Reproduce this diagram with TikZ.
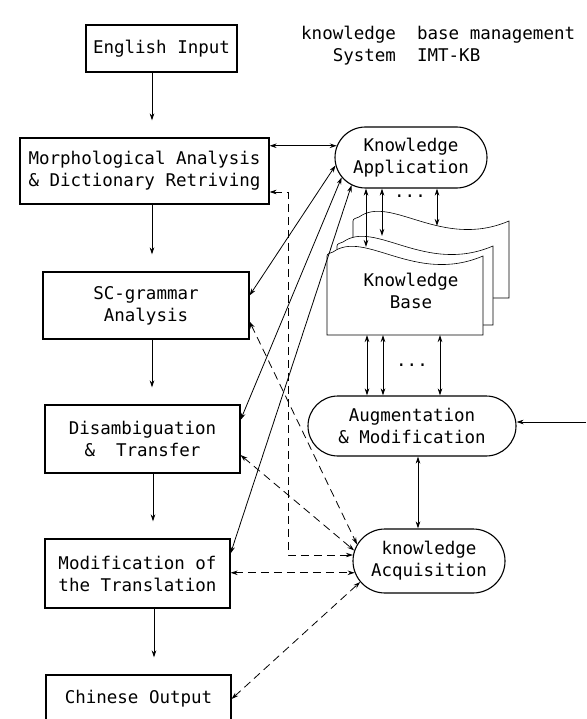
\documentclass[tikz,border=0pt]{standalone}
\usepackage{fontspec}
\setmonofont{DejaVu Sans Mono}
\usetikzlibrary{shapes.misc,arrows.meta,calc}
\begin{document}
\begin{tikzpicture}[x=1pt,y=-1pt,
  >={Stealth[length=7pt,width=4.5pt]},
  every node/.style={font=\ttfamily\fontsize{17.5}{22}\selectfont},
  box/.style={draw,line width=1.1pt,align=center,inner sep=2pt},
  stad/.style={draw,line width=1.1pt,rounded rectangle,align=center,inner sep=2pt},
  ln/.style={line width=0.8pt},
  dsh/.style={line width=0.8pt,dash pattern=on 8pt off 5pt},
  flow/.style={->,line width=0.9pt,shorten >=17pt},
  kbdoc/.pic={\filldraw[fill=white,line width=0.6pt] (0,#1) -- (0,3) to[out=90,in=210] (6,-1) .. controls (38,-24) and (88,32) .. (156,3) -- (156,#1) -- cycle;}
]
\useasboundingbox (0,0) rectangle (586,719);
\clip (0,0) rectangle (586,719);

% left column
\node[box,minimum width=151pt,minimum height=47pt] (EI) at (161.5,48.5) {English Input};
\node[box,minimum width=249pt,minimum height=66pt] (MA) at (144.5,171) {Morphological Analysis\\\& Dictionary Retriving};
\node[box,minimum width=206pt,minimum height=67pt] (SC) at (146,305.5) {SC-grammar\\Analysis};
\node[box,minimum width=195pt,minimum height=68pt] (DT) at (142.5,439) {Disambiguation\\\&\ \ Transfer};
\node[box,minimum width=185pt,minimum height=69pt] (MT) at (137.5,573.5) {Modification of\\the Translation};
\node[box,minimum width=185pt,minimum height=48pt] (CO) at (138.5,699) {Chinese Output};

\draw[flow] ([xshift=-9.5pt]EI.south) -- ([xshift=-9.5pt]EI.south |- MA.north);
\draw[flow] ([xshift=7.5pt]MA.south) -- ([xshift=7.5pt]MA.south |- SC.north);
\draw[flow] ([xshift=6pt]SC.south) -- ([xshift=6pt]SC.south |- DT.north);
\draw[flow] ([xshift=10.5pt]DT.south) -- ([xshift=10.5pt]DT.south |- MT.north);
\draw[flow] ([xshift=16.5pt]MT.south) -- ([xshift=16.5pt]MT.south |- CO.north);

% title
\node[anchor=west,align=left,inner sep=0pt] (title) at (301,46) {knowledge\ \ base management\\\phantom{kno}System\ \ IMT-KB};

% right column
\node[stad,minimum width=156pt,minimum height=61pt] (KA) at (411,157.5) {Knowledge\\Application};
\node[stad,minimum width=212pt,minimum height=60pt] (Aug) at (412,426) {Augmentation\\\& Modification};
\node[stad,minimum width=156pt,minimum height=64pt] (KAcq) at (429,561) {knowledge\\Acquisition};

% knowledge base stack
\pic at (353,218) {kbdoc=80};
\pic at (337,243) {kbdoc=82};
\pic at (327,253) {kbdoc=82};
\node[align=center] (KB) at (411,291) {Knowledge\\Base};

\coordinate (kt1) at (366,247);
\coordinate (kt2) at (382,236);
\coordinate (kt3) at (437,226);
\draw[ln,<->] (kt1 |- KA.south) -- (kt1);
\draw[ln,<->] (kt2 |- KA.south) -- (kt2);
\draw[ln,<->] (kt3 |- KA.south) -- (kt3);
\node[anchor=base] (dots1) at (410,197) {...};

\coordinate (kb1) at (367,335);
\coordinate (kb2) at (383,335);
\coordinate (kb3) at (440,335);
\draw[ln,<->] (kb1) -- (kb1 |- Aug.north);
\draw[ln,<->] (kb2) -- (kb2 |- Aug.north);
\draw[ln,<->] (kb3) -- (kb3 |- Aug.north);
\node[anchor=base] (dots2) at (412,366) {...};

\draw[ln,<->] ([xshift=6pt]Aug.south) -- ([xshift=6pt]Aug.south |- KAcq.north);
\coordinate (ext) at (586,422);
\draw[ln,->] (ext) -- (ext -| Aug.east);

% knowledge application links
\draw[ln,<->] (KA.171 -| MA.east) -- (KA.171);
\draw[ln,<->] ([yshift=10pt]SC.east) -- (KA.186);
\draw[ln,<->] ([yshift=19pt]DT.east) -- (KA.196);
\draw[ln,<->] ([yshift=20pt]MT.east) -- (KA.205);

% knowledge acquisition links
\coordinate (dv) at (288,555);
\draw[dsh,<->] ([yshift=-21pt]MA.east) -| (dv) -- (dv -| KAcq.176);
\draw[dsh,<->] ([yshift=-16pt]SC.east) -- (KAcq.167);
\draw[dsh,<->] ([yshift=-16pt]DT.east) -- (KAcq.172);
\draw[dsh,<->] (KAcq.189 -| MT.east) -- (KAcq.189);
\draw[dsh,<->] (CO.east) -- (KAcq.197);
\end{tikzpicture}
\end{document}
